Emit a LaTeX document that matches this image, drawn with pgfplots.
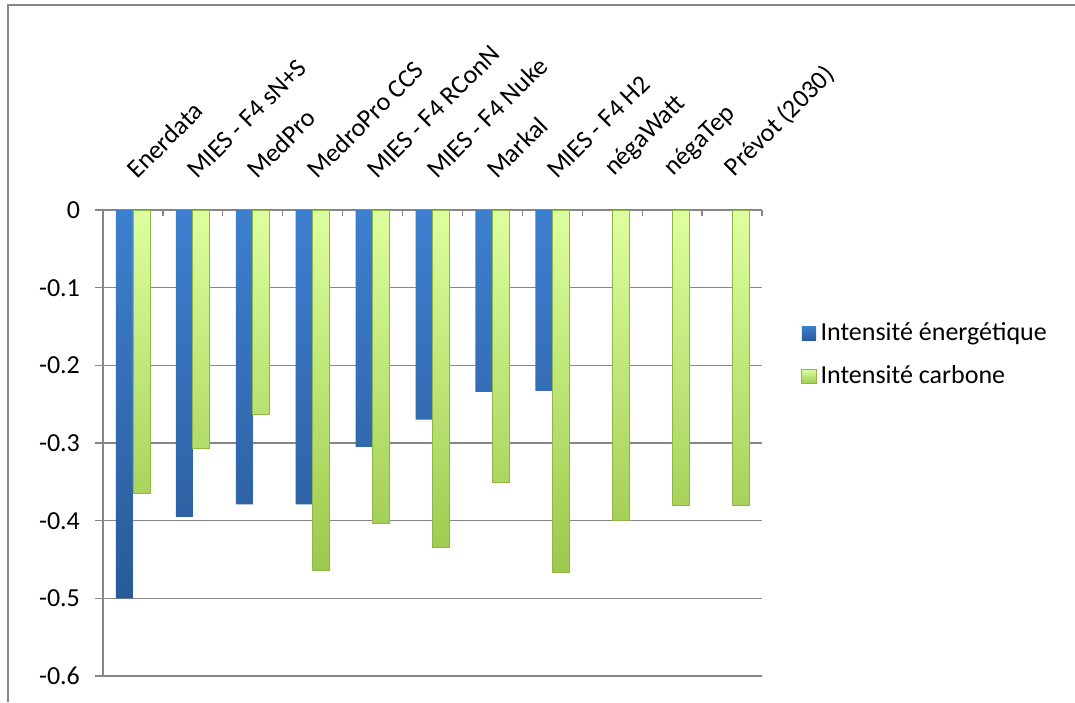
\documentclass[border=0pt]{standalone}
\usepackage{pgfplots}
\pgfplotsset{compat=1.18}
\usepackage{fontspec}
\setmainfont{Carlito}
\definecolor{bluetop}{HTML}{3D7FD0}
\definecolor{bluebot}{HTML}{2A5A98}
\definecolor{greentop}{HTML}{DDFF9E}
\definecolor{greenbot}{HTML}{9CC84C}
\definecolor{greenedge}{HTML}{8DB647}
\definecolor{axgray}{HTML}{868686}
\begin{document}
\begin{tikzpicture}[x=1pt,y=1pt]
\useasboundingbox (0,0) rectangle (537.5,351);
\draw[axgray, line width=1.2pt] (4,0) -- (4,348.5) -- (537.5,348.5);
\begin{axis}[
  at={(51.5pt,13pt)}, anchor=south west,
  scale only axis, width=329.5pt, height=233pt,
  ymin=-0.6, ymax=0, xmin=-0.5, xmax=10.5,
  ybar=0pt, bar width=8.5pt,
  axis x line*=top, axis y line*=left,
  axis line style={-, draw=axgray, line width=0.8pt},
  ytick={-0.6,-0.5,-0.4,-0.3,-0.2,-0.1,0},
  yticklabels={-0.6,-0.5,-0.4,-0.3,-0.2,-0.1,0},
  ymajorgrids, grid style={axgray, line width=0.6pt},
  xtick={0,1,2,3,4,5,6,7,8,9,10},
  xticklabels={Enerdata, MIES - F4 sN+S, MedPro, MedroPro CCS, MIES - F4 RConN, MIES - F4 Nuke, Markal, MIES - F4 H2, négaWatt, négaTep, Prévot (2030)},
  minor xtick={-0.5,0.5,1.5,2.5,3.5,4.5,5.5,6.5,7.5,8.5,9.5,10.5},
  tick align=inside,
  major tick length=4pt, minor tick length=3pt,
  major x tick style={draw=none},
  minor x tick style={draw=axgray, line width=0.6pt},
  major y tick style={draw=axgray, line width=0.6pt, xshift=-4pt},
  every tick label/.append style={font=\fontsize{13}{15}\selectfont, text=black},
  yticklabel style={xshift=-8pt},
  xticklabel style={xshift=2.5pt, yshift=10pt, rotate=45, anchor=south west},
  legend style={at={(1.05,0.689)}, anchor=west, draw=none, fill=none,
    font=\fontsize{13}{15}\selectfont, row sep=7pt,
    /tikz/every even column/.append style={column sep=2pt}},
  legend cell align=left,
  clip=false,
]
\addplot[draw=none, top color=bluetop, bottom color=bluebot,
  legend image code/.code={\draw[draw=none, top color=bluetop, bottom color=bluebot] (0pt,-3.6pt) rectangle (7.2pt,3.6pt);}]
  coordinates {(0,-0.5) (1,-0.395) (2,-0.379) (3,-0.379) (4,-0.305) (5,-0.27) (6,-0.234) (7,-0.233)};
\addlegendentry{Intensité énergétique}
\addplot[draw=greenedge, line width=0.4pt, top color=greentop, bottom color=greenbot,
  legend image code/.code={\draw[draw=greenedge, line width=0.4pt, top color=greentop, bottom color=greenbot] (0pt,-3.6pt) rectangle (7.2pt,3.6pt);}]
  coordinates {(0,-0.365) (1,-0.307) (2,-0.263) (3,-0.464) (4,-0.404) (5,-0.435) (6,-0.351) (7,-0.466) (8,-0.40) (9,-0.38) (10,-0.38)};
\addlegendentry{Intensité carbone}
\end{axis}
\end{tikzpicture}
\end{document}
